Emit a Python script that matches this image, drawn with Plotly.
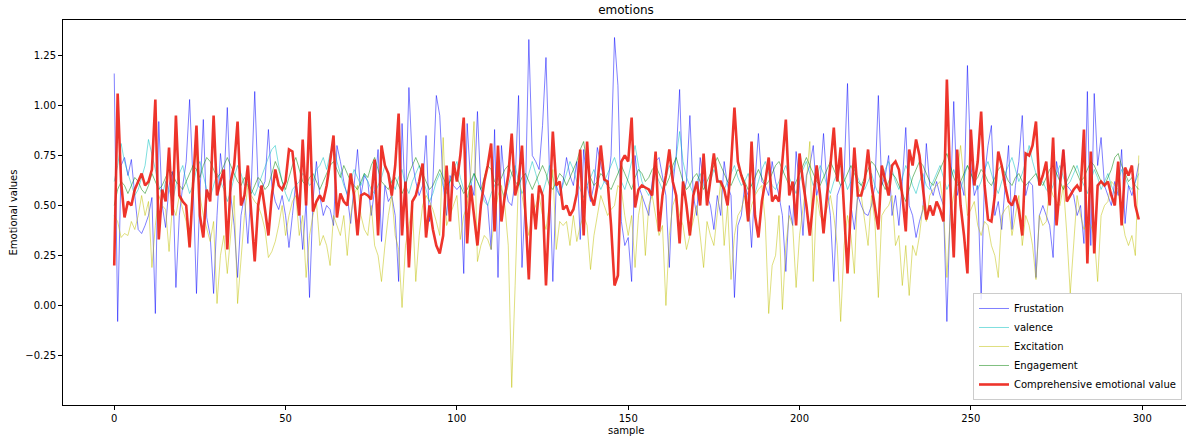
import plotly.graph_objects as go

samples = list(range(300))

frustation = [
1.16,-0.08,0.70,0.74,0.65,0.73,0.55,0.38,0.36,0.40,0.45,0.54,-0.04,0.92,0.50,0.39,0.60,0.67,0.09,0.45,
0.60,0.72,1.03,0.62,0.06,0.55,0.93,0.44,0.35,0.06,0.45,0.76,0.60,0.99,0.55,0.40,0.14,0.45,0.55,0.31,
0.60,1.07,0.60,0.58,0.62,0.88,0.60,0.52,0.48,0.55,0.45,0.29,0.45,0.62,0.50,0.28,0.52,0.04,0.52,0.72,
0.55,0.45,0.50,0.48,0.40,0.80,0.72,0.62,0.55,0.41,0.60,0.78,0.55,0.65,0.62,0.45,0.58,0.78,0.32,0.60,
0.52,0.55,0.45,0.12,0.91,0.50,1.09,0.72,0.62,0.55,0.60,0.85,0.42,0.62,1.05,0.95,0.60,0.45,0.65,0.60,
0.58,0.60,0.16,0.91,0.62,0.55,0.97,0.58,0.55,0.50,0.28,0.88,0.14,0.80,0.60,0.52,0.50,0.62,1.05,0.19,
0.55,1.33,0.75,0.72,0.68,0.90,1.24,0.65,0.12,0.60,0.55,0.62,0.74,0.65,0.60,0.72,0.33,0.78,0.60,0.52,
0.60,0.79,0.70,0.62,0.60,0.75,1.34,1.10,0.42,0.30,0.34,0.12,0.75,0.60,0.55,0.50,0.45,0.62,0.72,0.74,
0.65,0.55,0.19,0.60,0.75,1.08,0.55,0.62,0.95,0.55,0.45,0.74,0.62,0.55,0.50,0.38,0.55,0.45,0.72,0.60,
0.55,0.04,0.40,0.45,0.60,0.55,0.29,0.62,0.86,0.62,0.60,0.55,0.72,0.62,0.55,0.45,0.17,0.50,0.40,0.77,
0.60,0.35,0.65,0.70,0.80,0.55,0.62,0.86,0.60,0.45,0.12,0.55,0.60,0.65,1.11,0.50,0.38,0.55,0.50,0.46,
0.45,0.50,0.60,1.05,0.60,0.65,0.75,0.45,0.55,0.40,0.62,0.89,0.50,0.45,0.34,0.42,0.48,0.81,0.60,0.55,
0.62,0.55,0.50,-0.08,0.50,1.02,0.55,0.62,0.55,1.20,0.70,0.55,0.60,0.03,0.65,0.80,0.90,0.45,0.52,0.38,
0.60,0.80,0.38,0.60,0.72,0.95,0.55,0.62,0.60,0.14,0.45,0.50,0.45,0.40,0.24,0.72,0.62,0.78,0.60,0.58,
0.55,0.45,0.50,0.31,1.07,0.30,1.06,0.70,0.84,0.60,0.55,0.50,0.62,0.55,0.78,0.41,0.60,0.55,0.62,0.71]

valence = [
0.62,0.70,0.81,0.72,0.66,0.60,0.55,0.58,0.64,0.70,0.83,0.76,0.68,0.60,0.55,0.62,0.58,0.52,0.60,0.66,
0.70,0.62,0.56,0.60,0.68,0.72,0.65,0.58,0.54,0.60,0.66,0.62,0.58,0.52,0.57,0.64,0.70,0.66,0.60,0.62,
0.58,0.55,0.60,0.64,0.70,0.74,0.78,0.80,0.70,0.62,0.56,0.52,0.58,0.60,0.62,0.66,0.64,0.60,0.62,0.68,
0.70,0.74,0.68,0.76,0.80,0.72,0.66,0.60,0.56,0.62,0.68,0.64,0.60,0.66,0.62,0.58,0.56,0.60,0.64,0.70,
0.66,0.62,0.58,0.64,0.68,0.60,0.56,0.62,0.66,0.70,0.64,0.58,0.52,0.56,0.62,0.66,0.60,0.56,0.62,0.68,
0.72,0.64,0.58,0.54,0.60,0.66,0.62,0.58,0.52,0.50,0.56,0.60,0.64,0.58,0.54,0.60,0.66,0.70,0.62,0.56,
0.60,0.66,0.72,0.66,0.60,0.56,0.62,0.70,0.64,0.58,0.55,0.60,0.66,0.72,0.68,0.62,0.58,0.54,0.60,0.64,
0.68,0.62,0.58,0.62,0.66,0.70,0.74,0.68,0.62,0.58,0.64,0.72,0.80,0.70,0.62,0.58,0.55,0.60,0.66,0.62,
0.58,0.64,0.70,0.66,0.74,0.87,0.72,0.64,0.60,0.56,0.62,0.66,0.60,0.56,0.62,0.68,0.64,0.60,0.58,0.62,
0.66,0.70,0.64,0.60,0.62,0.66,0.60,0.56,0.62,0.68,0.72,0.66,0.60,0.58,0.62,0.66,0.70,0.64,0.60,0.56,
0.62,0.68,0.72,0.66,0.60,0.64,0.70,0.66,0.60,0.56,0.62,0.66,0.70,0.64,0.58,0.62,0.68,0.64,0.60,0.58,
0.62,0.66,0.60,0.56,0.62,0.68,0.72,0.68,0.62,0.58,0.64,0.70,0.66,0.60,0.56,0.62,0.66,0.60,0.58,0.62,
0.66,0.70,0.64,0.58,0.62,0.68,0.62,0.58,0.64,0.70,0.66,0.62,0.58,0.62,0.68,0.72,0.66,0.60,0.56,0.62,
0.66,0.70,0.74,0.68,0.62,0.66,0.72,0.80,0.72,0.66,0.60,0.62,0.58,0.56,0.60,0.66,0.70,0.64,0.60,0.62,
0.66,0.70,0.64,0.60,0.56,0.62,0.68,0.64,0.58,0.62,0.66,0.60,0.56,0.62,0.68,0.64,0.60,0.58,0.62,0.66]

excitation = [
0.45,0.42,0.34,0.36,0.35,0.42,0.38,0.45,0.55,0.45,0.52,0.19,0.40,0.55,0.50,0.48,0.27,0.50,0.45,0.55,
0.48,0.42,0.30,0.70,0.76,0.55,0.45,0.38,0.32,0.42,0.01,0.25,0.35,0.16,0.35,0.55,0.01,0.25,0.45,0.60,
0.55,0.52,0.50,0.45,0.38,0.24,0.27,0.32,0.40,0.50,0.35,0.45,0.52,0.55,0.35,0.45,0.14,0.35,0.45,0.52,
0.30,0.35,0.30,0.20,0.45,0.40,0.35,0.45,0.25,0.45,0.55,0.60,0.45,0.38,0.35,0.50,0.30,0.25,0.12,0.30,
0.45,0.55,0.35,0.28,-0.01,0.30,0.40,0.50,0.12,0.35,0.50,0.55,0.52,0.48,0.42,0.35,0.84,0.40,0.45,0.50,
0.55,0.33,0.45,0.50,0.65,0.92,0.22,0.30,0.35,0.33,0.28,0.45,0.55,0.60,0.50,0.30,-0.41,0.10,0.65,0.55,
0.45,0.35,0.45,0.50,0.55,0.45,0.38,0.50,0.68,0.28,0.42,0.40,0.42,0.30,0.45,0.32,0.40,0.45,0.40,0.18,
0.35,0.45,0.55,0.50,0.45,0.48,0.50,0.60,0.58,0.45,0.35,0.45,0.19,0.45,0.55,0.25,0.50,0.55,0.45,0.35,
0.40,0.00,0.35,0.50,0.55,0.45,0.40,0.28,0.35,0.42,0.50,0.35,0.19,0.42,0.35,0.30,0.45,0.62,0.30,0.50,
0.13,0.35,0.45,0.48,0.55,0.42,0.50,0.55,0.58,0.60,0.42,-0.04,0.20,0.25,0.45,-0.02,0.30,0.45,0.40,0.09,
0.35,0.48,0.62,0.82,0.12,0.55,0.45,0.42,0.48,0.55,0.45,0.30,-0.08,0.30,0.45,0.35,0.16,0.60,0.55,0.42,
0.30,0.55,0.42,0.04,0.45,0.48,0.50,0.55,0.30,0.35,0.10,0.30,0.05,0.30,0.25,0.35,0.50,0.42,0.55,0.58,
0.60,0.62,0.50,0.14,0.45,0.55,0.65,0.80,0.62,0.45,0.48,0.52,0.40,0.35,0.42,0.40,0.30,0.25,0.14,0.45,
0.48,0.50,0.35,0.45,0.55,0.30,0.45,0.40,0.30,0.13,0.45,0.40,0.42,0.60,0.55,0.52,0.50,0.60,0.36,0.06,
0.30,0.55,0.45,0.38,0.42,0.40,0.35,0.12,0.45,0.50,0.52,0.62,0.60,0.58,0.45,0.35,0.30,0.35,0.25,0.75]

engagement = [
0.50,0.58,0.62,0.60,0.56,0.60,0.64,0.62,0.58,0.56,0.60,0.66,0.62,0.58,0.60,0.64,0.68,0.66,0.62,0.60,
0.58,0.62,0.66,0.70,0.68,0.64,0.70,0.74,0.72,0.68,0.64,0.66,0.70,0.74,0.70,0.66,0.62,0.60,0.64,0.60,
0.56,0.60,0.64,0.62,0.58,0.60,0.66,0.72,0.68,0.62,0.58,0.64,0.70,0.74,0.68,0.62,0.60,0.64,0.66,0.62,
0.58,0.62,0.66,0.70,0.72,0.68,0.64,0.70,0.66,0.62,0.60,0.58,0.62,0.66,0.64,0.70,0.74,0.68,0.62,0.60,
0.58,0.62,0.64,0.60,0.56,0.60,0.66,0.70,0.74,0.70,0.66,0.62,0.58,0.60,0.64,0.68,0.64,0.60,0.62,0.66,
0.64,0.60,0.56,0.58,0.62,0.66,0.62,0.58,0.64,0.70,0.68,0.62,0.60,0.64,0.68,0.70,0.66,0.62,0.60,0.64,
0.66,0.62,0.58,0.62,0.66,0.70,0.66,0.60,0.58,0.62,0.66,0.64,0.60,0.64,0.68,0.72,0.78,0.82,0.70,0.64,
0.60,0.62,0.66,0.64,0.60,0.58,0.62,0.66,0.70,0.66,0.62,0.58,0.64,0.68,0.66,0.62,0.64,0.68,0.70,0.66,
0.62,0.60,0.64,0.70,0.74,0.68,0.62,0.58,0.60,0.64,0.66,0.62,0.58,0.62,0.66,0.70,0.74,0.70,0.66,0.62,
0.60,0.64,0.68,0.66,0.62,0.58,0.60,0.64,0.68,0.64,0.60,0.62,0.66,0.70,0.72,0.68,0.64,0.60,0.58,0.62,
0.66,0.70,0.74,0.70,0.66,0.62,0.60,0.64,0.68,0.72,0.68,0.64,0.60,0.62,0.66,0.70,0.66,0.62,0.60,0.64,
0.68,0.72,0.70,0.66,0.62,0.58,0.62,0.66,0.64,0.60,0.56,0.52,0.58,0.64,0.68,0.72,0.70,0.66,0.62,0.60,
0.64,0.68,0.72,0.76,0.70,0.64,0.60,0.62,0.66,0.70,0.66,0.62,0.64,0.68,0.66,0.62,0.60,0.64,0.68,0.70,
0.66,0.62,0.60,0.64,0.66,0.62,0.60,0.62,0.64,0.66,0.62,0.60,0.64,0.68,0.70,0.66,0.62,0.58,0.62,0.66,
0.70,0.66,0.62,0.64,0.68,0.72,0.70,0.66,0.62,0.60,0.64,0.68,0.74,0.76,0.70,0.66,0.62,0.64,0.60,0.58]

comprehensive = [
0.20,1.06,0.62,0.44,0.52,0.50,0.58,0.62,0.66,0.60,0.62,0.68,1.03,0.33,0.58,0.52,0.79,0.45,0.95,0.55,
0.52,0.50,0.29,0.60,0.90,0.45,0.34,0.58,0.52,0.95,0.55,0.62,0.68,0.28,0.62,0.70,0.92,0.50,0.55,0.70,
0.48,0.22,0.50,0.60,0.48,0.35,0.55,0.68,0.60,0.58,0.62,0.78,0.77,0.60,0.45,0.83,0.50,0.97,0.47,0.52,
0.55,0.52,0.60,0.72,0.85,0.44,0.56,0.52,0.50,0.66,0.55,0.35,0.55,0.56,0.55,0.53,0.73,0.35,0.80,0.70,
0.66,0.55,0.70,0.96,0.35,0.62,0.19,0.52,0.55,0.62,0.71,0.34,0.50,0.38,0.30,0.26,0.35,0.70,0.42,0.72,
0.62,0.75,0.94,0.31,0.60,0.45,0.30,0.50,0.62,0.70,0.81,0.37,0.80,0.42,0.55,0.65,0.86,0.55,0.62,0.80,
0.45,0.13,0.56,0.38,0.60,0.55,0.10,0.50,0.87,0.60,0.62,0.48,0.50,0.45,0.48,0.56,0.78,0.35,0.82,0.55,
0.50,0.60,0.80,0.63,0.62,0.40,0.10,0.15,0.72,0.75,0.72,0.94,0.49,0.58,0.60,0.59,0.58,0.55,0.77,0.37,
0.55,0.65,0.78,0.62,0.55,0.31,0.62,0.50,0.35,0.55,0.62,0.50,0.76,0.50,0.62,0.76,0.62,0.62,0.58,0.50,
0.70,0.99,0.72,0.65,0.60,0.42,0.82,0.45,0.34,0.52,0.62,0.74,0.52,0.55,0.52,0.75,0.93,0.55,0.62,0.40,
0.76,0.62,0.50,0.35,0.52,0.70,0.55,0.36,0.55,0.70,0.89,0.62,0.79,0.45,0.16,0.50,0.79,0.55,0.55,0.62,
0.78,0.60,0.50,0.38,0.70,0.62,0.55,0.70,0.72,0.68,0.55,0.37,0.78,0.70,0.83,0.75,0.60,0.43,0.50,0.45,
0.52,0.48,0.42,1.13,0.60,0.24,0.78,0.50,0.35,0.16,0.88,0.60,0.72,0.97,0.60,0.43,0.42,0.55,0.77,0.70,
0.60,0.52,0.50,0.55,0.48,0.35,0.76,0.75,0.80,0.92,0.60,0.65,0.72,0.50,0.84,0.40,0.60,0.78,0.52,0.55,
0.58,0.60,0.57,0.88,0.21,0.77,0.26,0.60,0.62,0.60,0.62,0.55,0.50,0.72,0.40,0.69,0.65,0.70,0.50,0.43]

series_names = ["Frustation", "valence", "Excitation", "Engagement", "Comprehensive emotional value"]
series_values = [frustation, valence, excitation, engagement, comprehensive]
series_colors = ["rgba(0,0,255,0.5)", "rgba(0,191,191,0.5)", "rgba(191,191,0,0.5)",
                 "rgba(0,128,0,0.5)", "rgba(236,30,20,0.9)"]
series_widths = [1, 1, 1, 1, 2.6]

x_ticks = [0, 50, 100, 150, 200, 250, 300]
y_ticks = [-0.25, 0.0, 0.25, 0.5, 0.75, 1.0, 1.25]

fig = go.Figure()
for name, vals, col, w in zip(series_names, series_values, series_colors, series_widths):
    fig.add_trace(go.Scatter(x=samples, y=vals, mode="lines", name=name,
                             line=dict(color=col, width=w)))

font = "DejaVu Sans, sans-serif"
W = 1190
fig.update_layout(
    width=W, height=439,
    margin=dict(l=63, r=0, t=20, b=34, autoexpand=False),
    paper_bgcolor="white", plot_bgcolor="white",
    font=dict(family=font, size=10, color="#000"),
    title=dict(text="emotions", x=(626 / W), xanchor="center", y=1 - 10 / 439, yanchor="middle",
               font=dict(family=font, size=12, color="#000")),
    showlegend=True,
    legend=dict(x=(1182 - 63) / (W - 63), y=0.013, xanchor="right", yanchor="bottom",
                bgcolor="rgba(255,255,255,0.85)", bordercolor="#cccccc", borderwidth=1,
                font=dict(family=font, size=10, color="#000"), tracegroupgap=0,
                itemwidth=30),
    annotations=[
        dict(text="sample", x=(626 - 63) / (W - 63), y=0, xref="paper", yref="paper",
             showarrow=False, yanchor="middle", yshift=-25,
             font=dict(family=font, size=10, color="#000")),
        dict(text="Emotional values", x=0, y=0.5, xref="paper", yref="paper", showarrow=False,
             xanchor="center", xshift=-50, textangle=-90,
             font=dict(family=font, size=10, color="#000")),
    ],
)
fig.update_xaxes(range=[-14.95, 313.95], tickvals=x_ticks, ticks="outside", ticklen=4,
                 tickcolor="#000", showline=True, linecolor="#000", linewidth=1, mirror=True,
                 showgrid=False, zeroline=False, automargin=False)
fig.update_yaxes(range=[-0.4975, 1.4275], tickvals=y_ticks, tickformat=".2f", ticks="outside",
                 ticklen=4, tickcolor="#000", showline=True, linecolor="#000", linewidth=1,
                 mirror=True, showgrid=False, zeroline=False, automargin=False)

fig.write_html("out.html", config={"displayModeBar": False},
               post_script="document.body.style.margin='0';document.body.style.overflow='hidden';")
